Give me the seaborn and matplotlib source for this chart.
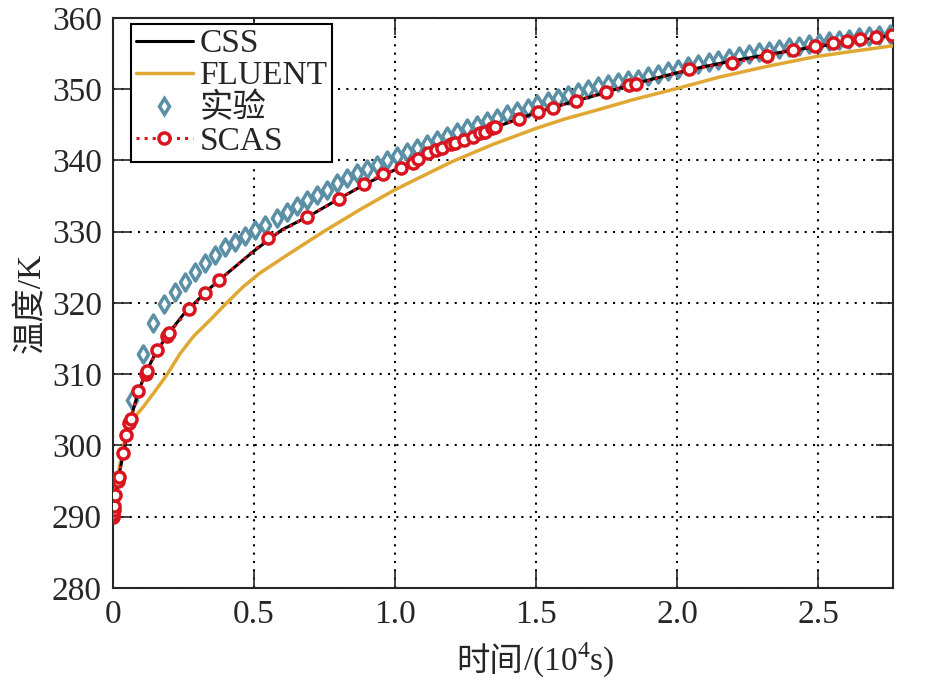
import numpy as np
import pandas as pd
import matplotlib
matplotlib.use("Agg")
import matplotlib.pyplot as plt
import seaborn as sns
from matplotlib.lines import Line2D

# ---- data (time in 10^4 s, temperature in K) ----
css_t = [0.0, 0.005, 0.01, 0.02, 0.03, 0.04, 0.05, 0.06, 0.08, 0.10, 0.12, 0.15,
         0.20, 0.25, 0.30, 0.35, 0.40, 0.50, 0.55, 0.60, 0.70, 0.80, 0.90, 1.00,
         1.10, 1.20, 1.30, 1.40, 1.50, 1.60, 1.70, 1.80, 1.90, 2.00, 2.10, 2.20,
         2.30, 2.40, 2.50, 2.60, 2.70, 2.766]
css_T = [290.0, 291.5, 293.0, 295.5, 297.6, 299.5, 301.5, 303.3, 306.2, 308.6, 310.5, 312.9,
         315.9, 318.4, 320.4, 322.3, 324.0, 327.3, 328.8, 330.3, 332.3, 334.6, 336.8, 338.7,
         340.6, 342.3, 343.8, 345.3, 346.7, 347.9, 349.0, 350.2, 351.3, 352.3, 353.2, 354.0,
         354.7, 355.4, 356.0, 356.6, 357.2, 357.6]

fluent_t = [0.0, 0.01, 0.025, 0.04, 0.06, 0.072, 0.107, 0.143, 0.178, 0.202, 0.238, 0.285,
            0.344, 0.403, 0.462, 0.521, 0.628, 0.746, 0.88, 1.00, 1.20, 1.35, 1.50, 1.60,
            1.727, 1.85, 2.00, 2.15, 2.318, 2.495, 2.62, 2.766]
fluent_T = [290.5, 293.5, 297.5, 300.3, 302.8, 303.8, 305.4, 307.3, 309.2, 310.6, 312.9, 315.3,
            317.6, 320.0, 322.3, 324.2, 327.0, 330.0, 333.2, 335.9, 339.8, 342.3, 344.5, 345.8,
            347.2, 348.6, 350.1, 351.7, 353.2, 354.6, 355.3, 356.1]

exp_t = [0.068, 0.108, 0.143, 0.182, 0.220, 0.255, 0.291, 0.326, 0.362, 0.397, 0.433, 0.468,
         0.504, 0.539, 0.580, 0.616, 0.651, 0.687, 0.722, 0.758, 0.793, 0.829, 0.864, 0.900,
         0.935, 0.971, 1.006, 1.042, 1.077, 1.113, 1.149, 1.184, 1.220, 1.256, 1.291, 1.327,
         1.363, 1.398, 1.434, 1.470, 1.505, 1.541, 1.577, 1.612, 1.648, 1.684, 1.719, 1.755,
         1.791, 1.826, 1.862, 1.898, 1.933, 1.969, 2.005, 2.040, 2.076, 2.112, 2.147, 2.183,
         2.219, 2.254, 2.290, 2.326, 2.361, 2.397, 2.433, 2.468, 2.504, 2.540, 2.575, 2.611,
         2.647, 2.682, 2.718, 2.754]
exp_T = [306.4, 312.8, 317.2, 319.8, 321.6, 322.9, 324.3, 325.6, 326.8, 327.9, 328.6, 329.4,
         330.2, 331.0, 331.9, 332.8, 333.6, 334.5, 335.2, 335.9, 336.8, 337.5, 338.2, 338.8,
         339.4, 340.1, 340.6, 341.2, 341.8, 342.3, 342.9, 343.4, 344.0, 344.5, 345.0, 345.5,
         346.0, 346.5, 347.0, 347.4, 347.9, 348.3, 348.7, 349.2, 349.6, 350.0, 350.4, 350.7,
         351.0, 351.3, 351.5, 351.8, 352.1, 352.5, 352.9, 353.2, 353.5, 353.8, 354.1, 354.4,
         354.7, 354.9, 355.2, 355.4, 355.7, 355.9, 356.1, 356.3, 356.5, 356.7, 356.9, 357.1,
         357.3, 357.5, 357.6, 357.8]

scas_t = [0.0, 0.001, 0.002, 0.004, 0.008, 0.018, 0.020, 0.037, 0.047, 0.057, 0.063, 0.090,
          0.116, 0.122, 0.157, 0.190, 0.199, 0.270, 0.326, 0.377, 0.551, 0.689, 0.802, 0.891,
          0.959, 1.020, 1.065, 1.083, 1.118, 1.145, 1.166, 1.198, 1.213, 1.245, 1.278, 1.301,
          1.319, 1.343, 1.355, 1.441, 1.508, 1.561, 1.642, 1.747, 1.831, 1.856, 2.044, 2.196,
          2.318, 2.413, 2.489, 2.554, 2.602, 2.649, 2.706, 2.761]
scas_T = [290.0, 290.4, 291.0, 291.5, 293.0, 295.0, 295.6, 299.0, 301.5, 303.1, 303.7, 307.6,
          310.0, 310.5, 313.4, 315.3, 315.8, 319.1, 321.4, 323.2, 329.1, 332.1, 334.6, 336.7,
          338.1, 339.0, 339.6, 340.2, 341.0, 341.5, 341.7, 342.3, 342.5, 342.9, 343.3, 343.9,
          344.0, 344.5, 344.7, 345.8, 346.8, 347.4, 348.4, 349.6, 350.6, 350.7, 352.8, 353.7,
          354.7, 355.5, 356.1, 356.5, 356.8, 357.0, 357.4, 357.6]

css = pd.DataFrame({"t": css_t, "T": css_T})
fluent = pd.DataFrame({"t": fluent_t, "T": fluent_T})
exp = pd.DataFrame({"t": exp_t, "T": exp_T})
scas = pd.DataFrame({"t": scas_t, "T": scas_T})

sns.set_style("ticks")
plt.rcParams["font.family"] = ["Liberation Serif", "Noto Sans CJK SC"]
plt.rcParams["mathtext.fontset"] = "custom"
plt.rcParams["mathtext.rm"] = "Liberation Serif"

c_fluent = "#E0A832"
c_exp = "#5A8FA6"
c_scas = "#D9141E"

fig = plt.figure(figsize=(9.27, 6.89), dpi=100)
ax = fig.add_axes([0.1219, 0.1466, 0.8414, 0.8273])

sns.lineplot(data=fluent, x="t", y="T", ax=ax, color=c_fluent, lw=2.5, zorder=3)
sns.scatterplot(data=exp, x="t", y="T", ax=ax, marker="d", s=75, facecolor="white",
                edgecolor=c_exp, linewidth=2.5, zorder=4)
sns.lineplot(data=css, x="t", y="T", ax=ax, color="black", lw=2.2, zorder=5)
sns.lineplot(data=scas, x="t", y="T", ax=ax, color=c_scas, lw=2.2, ls=":",
             marker="o", ms=8, mfc="white", mec=c_scas, mew=2.5, zorder=6)

ax.set_xlim(0, 2.766)
ax.set_ylim(280, 360)
ax.set_xticks([0, 0.5, 1.0, 1.5, 2.0, 2.5])
ax.set_xticklabels(["0", "0.5", "1.0", "1.5", "2.0", "2.5"])
ax.set_yticks(np.arange(280, 361, 10))
ax.tick_params(direction="in", length=12, width=1.2, labelsize=24,
               top=True, right=True, pad=8)
ax.grid(True, color="black", ls=(0, (1, 3)), lw=1.5)
for s in ax.spines.values():
    s.set_linewidth(1.5)

# x label: Chinese part + mathtext part (superscript 4)
ax.set_xlabel("")
fig.text(0.5645, 0.026, "时间", fontsize=24, ha="right", va="baseline",
         family=["Noto Sans CJK SC"])
fig.text(0.5645, 0.026, r"/(10$^{\mathrm{4}}$s)", fontsize=24, ha="left", va="baseline")
ax.set_ylabel("温度/K", fontsize=24, labelpad=4)

handles = [
    Line2D([], [], color="black", lw=2.2),
    Line2D([], [], color=c_fluent, lw=2.5),
    Line2D([], [], ls="none", marker="d", ms=8, mfc="white", mec=c_exp, mew=2.5),
    Line2D([], [], color=c_scas, lw=2.2, ls=":", marker="o", ms=8, mfc="white",
           mec=c_scas, mew=2.5),
]
leg = ax.legend(handles, ["CSS", "FLUENT", "实验", "SCAS"], loc="upper left",
                bbox_to_anchor=(0.023, 0.99), borderaxespad=0, fontsize=24,
                frameon=True, fancybox=False, framealpha=1, edgecolor="black",
                handlelength=1.7, handletextpad=0.2, labelspacing=0.05,
                borderpad=0.15)
leg.get_frame().set_linewidth(1.5)
leg.set_zorder(10)

fig.savefig("out.png", dpi=100)
